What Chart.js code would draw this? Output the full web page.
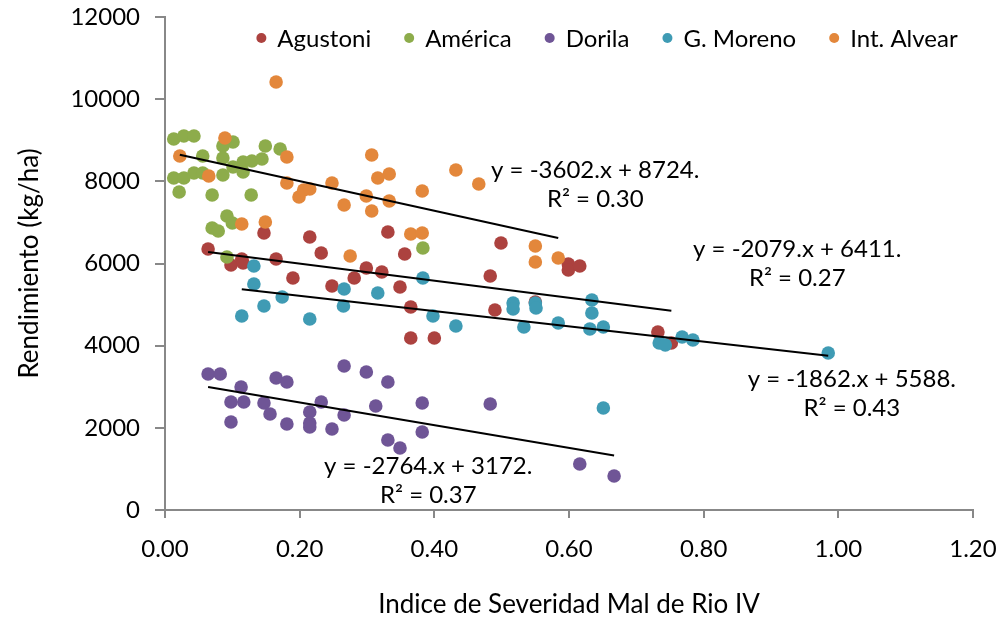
<!DOCTYPE html>
<html><head><meta charset="utf-8">
<script src="https://cdn.jsdelivr.net/npm/chart.js@4/dist/chart.umd.min.js"></script>
<style>html,body{margin:0;padding:0;background:#fff}#wrap{width:1000px;height:624px}</style>
</head><body><div id="wrap"><canvas id="c" width="1000" height="624"></canvas></div>
<script>
const seriesNames = ['Agustoni', 'América', 'Dorila', 'G. Moreno', 'Int. Alvear'];

const agustoniX = [0.064,0.098,0.114,0.116,0.147,0.165,0.190,0.215,0.232,0.248,0.281,0.299,0.322,0.331,0.349,0.356,0.365,0.365,0.400,0.483,0.490,0.499,0.550,0.599,0.599,0.616,0.732,0.752];
const agustoniY = [6353,5963,6109,6012,6742,6109,5647,6645,6255,5452,5647,5890,5793,6767,5428,6231,4941,4186,4186,5696,4868,6499,5063,5988,5842,5939,4333,4065];

const americaX = [0.013,0.028,0.043,0.101,0.086,0.149,0.171,0.056,0.086,0.116,0.129,0.144,0.101,0.116,0.043,0.056,0.086,0.013,0.028,0.021,0.070,0.128,0.092,0.100,0.070,0.079,0.092,0.383];
const americaY = [9030,9103,9103,8957,8860,8860,8787,8616,8568,8470,8495,8543,8349,8227,8203,8203,8154,8081,8081,7740,7667,7667,7156,6986,6864,6791,6158,6377];

const dorilaX = [0.064,0.082,0.113,0.098,0.117,0.098,0.165,0.181,0.147,0.156,0.181,0.215,0.215,0.215,0.232,0.248,0.266,0.266,0.299,0.313,0.331,0.331,0.349,0.382,0.382,0.483,0.616,0.667];
const dorilaY = [3310,3310,2994,2629,2629,2142,3213,3115,2604,2337,2093,2385,2118,2020,2629,1971,3505,2312,3359,2531,3115,1704,1509,2604,1899,2580,1120,828];

const morenoX = [0.132,0.132,0.174,0.147,0.114,0.215,0.266,0.265,0.316,0.383,0.398,0.432,0.517,0.517,0.550,0.551,0.533,0.584,0.634,0.634,0.631,0.651,0.734,0.743,0.768,0.784,0.651,0.985];
const morenoY = [5939,5501,5184,4965,4722,4649,5379,4965,5282,5647,4722,4479,5038,4892,5038,4917,4454,4552,5111,4795,4406,4454,4065,4016,4211,4138,2483,3821];

const alvearX = [0.022,0.065,0.089,0.114,0.149,0.165,0.181,0.181,0.199,0.206,0.215,0.248,0.266,0.275,0.299,0.307,0.307,0.316,0.333,0.333,0.365,0.382,0.382,0.432,0.466,0.550,0.550,0.584];
const alvearY = [8616,8130,9054,6961,7010,10418,8592,7959,7618,7789,7813,7959,7423,6182,7643,8641,7278,8081,8178,7521,6718,6742,7764,8276,7935,6426,6036,6134];

// Trendline equations (null = no trendline)
const trendSlope     = [-2079, null, -2764, -1862, -3602];
const trendIntercept = [6411,  null, 3172,  5588,  8724];
const trendR2        = ['0.27', null, '0.37', '0.43', '0.30'];
// Equation label anchors, in data units
const trendLabelX    = [0.939, null, 0.391, 1.020, 0.639];
const trendLabelY    = [6353,  null, 1071,  3189,  8276];

const xTickLabels = ['0.00', '0.20', '0.40', '0.60', '0.80', '1.00', '1.20'];
const yTickLabels = ['0', '2000', '4000', '6000', '8000', '10000', '12000'];
const xTitle = 'Indice de Severidad Mal de Rio IV';
const yTitle = 'Rendimiento (kg/ha)';

const seriesX = [agustoniX, americaX, dorilaX, morenoX, alvearX];
const seriesY = [agustoniY, americaY, dorilaY, morenoY, alvearY];
const colors = ['#AC423F', '#8DAC4B', '#6F5596', '#3F9BB4', '#E3873B'];

const FONT = 'Lato';
const FS = 24;
const FS_TITLE = 26;

const datasets = [];
seriesNames.forEach((name, s) => {
  datasets.push({
    type: 'scatter',
    label: name,
    data: seriesX[s].map((x, i) => ({x: x, y: seriesY[s][i]})),
    backgroundColor: colors[s],
    borderColor: colors[s],
    pointRadius: 6.8,
    pointBorderWidth: 0,
    pointHoverRadius: 6.8,
    order: 10 - s
  });
});
seriesNames.forEach((name, s) => {
  if (trendSlope[s] === null) return;
  const xmin = Math.min(...seriesX[s]);
  const xmax = Math.max(...seriesX[s]);
  datasets.push({
    type: 'line',
    label: 'trend-' + name,
    isTrend: true,
    data: [xmin, xmax].map(x => ({x: x, y: trendSlope[s] * x + trendIntercept[s]})),
    borderColor: '#000',
    backgroundColor: '#000',
    borderWidth: 2,
    pointRadius: 0,
    fill: false,
    order: 0
  });
});

const eqPlugin = {
  id: 'eqLabels',
  afterDatasetsDraw(chart) {
    const ctx = chart.ctx;
    const xs = chart.scales.x, ys = chart.scales.y;
    ctx.save();
    ctx.fillStyle = '#000';
    ctx.font = FS + 'px ' + FONT;
    ctx.textAlign = 'center';
    ctx.textBaseline = 'middle';
    seriesNames.forEach((n, s) => {
      if (trendSlope[s] === null) return;
      const px = xs.getPixelForValue(trendLabelX[s]);
      const py = ys.getPixelForValue(trendLabelY[s]);
      const eq = 'y = ' + trendSlope[s] + '.x + ' + trendIntercept[s] + '.';
      ctx.fillText(eq, px, py);
      ctx.fillText('R² = ' + trendR2[s], px, py + 29);
    });
    ctx.restore();
  }
};

// Legend drawn inside the plot area, horizontally (as in the reference)
const legendPlugin = {
  id: 'innerLegend',
  afterDraw(chart) {
    const ctx = chart.ctx;
    ctx.save();
    ctx.font = FS + 'px ' + FONT;
    ctx.textBaseline = 'middle';
    ctx.textAlign = 'left';
    const dotR = 5, textGap = 16, itemGap = 38;
    const items = chart.data.datasets.filter(d => !d.isTrend);
    let total = 0;
    items.forEach((d, i) => {
      total += textGap + ctx.measureText(d.label).width + (i < items.length - 1 ? itemGap : 0);
    });
    const groupLeft = 259, groupRight = 955;
    let x = (groupLeft + groupRight) / 2 - (total + dotR) / 2 + dotR;
    const y = 38;
    items.forEach(d => {
      ctx.fillStyle = d.backgroundColor;
      ctx.beginPath();
      ctx.arc(x, y, dotR, 0, Math.PI * 2);
      ctx.fill();
      ctx.fillStyle = '#000';
      ctx.fillText(d.label, x + textGap, y + 1);
      x += textGap + ctx.measureText(d.label).width + itemGap;
    });
    ctx.restore();
  }
};

function noLabelPadding(s) {
  s.paddingTop = 0; s.paddingBottom = 0; s.paddingLeft = 0; s.paddingRight = 0;
}

new Chart(document.getElementById('c'), {
  data: {datasets: datasets},
  plugins: [eqPlugin, legendPlugin],
  options: {
    responsive: false,
    animation: false,
    devicePixelRatio: 1,
    layout: {autoPadding: false, padding: {top: 17, right: 27, left: 0, bottom: 0}},
    plugins: {
      tooltip: {enabled: false},
      legend: {display: false}
    },
    scales: {
      x: {
        type: 'linear', min: 0, max: 1.2,
        ticks: {stepSize: 0.2, color: '#000', font: {family: FONT, size: FS}, padding: 17,
          callback: (v, i) => xTickLabels[i]},
        grid: {drawOnChartArea: false, tickLength: 8, color: '#888', lineWidth: 2},
        border: {color: '#888', width: 2},
        title: {display: true, text: xTitle, color: '#000', font: {family: FONT, size: FS_TITLE}, padding: {top: 0, bottom: 4}},
        afterFit: s => { s.height = 114; noLabelPadding(s); }
      },
      y: {
        type: 'linear', min: 0, max: 12000,
        ticks: {stepSize: 2000, color: '#000', font: {family: FONT, size: FS}, padding: 15,
          callback: (v, i) => yTickLabels[i]},
        grid: {drawOnChartArea: false, tickLength: 10, color: '#888', lineWidth: 2},
        border: {color: '#888', width: 2},
        title: {display: true, text: yTitle, color: '#000', font: {family: FONT, size: FS_TITLE}, padding: {top: 14, bottom: 0}},
        afterFit: s => { s.width = 165; noLabelPadding(s); }
      }
    }
  }
});
</script>
</body></html>
